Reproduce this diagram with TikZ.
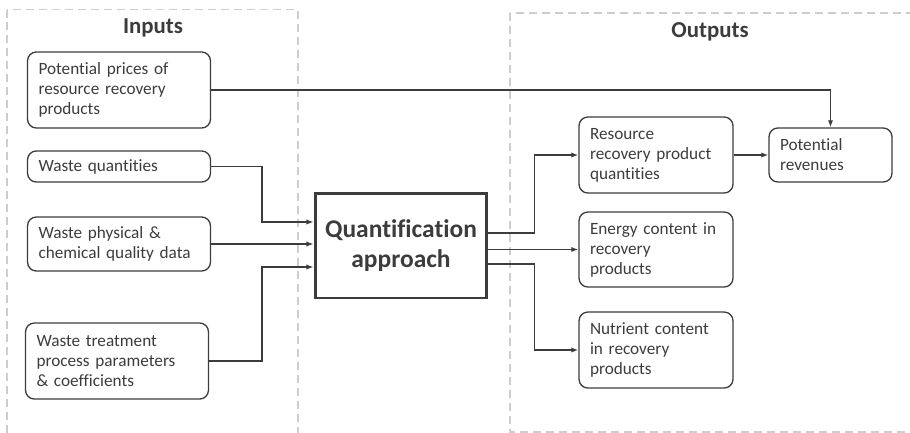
\documentclass[tikz,border=0pt]{standalone}
\usepackage{fontspec}
\setmainfont{Carlito}[Ligatures = NoCommon]
\usetikzlibrary{arrows.meta}

\definecolor{linegray}{RGB}{60, 60, 60}
\definecolor{framegray}{RGB}{205, 205, 205}

\begin{document}
\begin{tikzpicture}[x = 0.02cm, y = -0.02cm, > = {Latex[length = 4pt, width = 3pt]},
	font = \fontsize{9.8}{11.4}\selectfont, text = linegray,
	inbox/.style = {draw = linegray, line width = 0.75pt, rounded corners = 5pt, align = left,
		text width = 3.22cm, inner xsep = 0.22cm, inner ysep = 0pt},
	outbox/.style = {inbox, text width = 2.64cm},
	link/.style = {draw = linegray, line width = 0.75pt, ->}]

	% Frame

	\useasboundingbox (0, 0) rectangle (910, 433);
	\begin{scope}
		\clip (0, 0) rectangle (910, 433);
		\draw [framegray, line width = 0.8pt, dash pattern = on 0.16cm off 0.1cm] (7, 9.5) rectangle (298, 460);
		\draw [framegray, line width = 0.8pt, dash pattern = on 0.16cm off 0.1cm] (510, 13) rectangle (930, 432);
	\end{scope}

	\node [font = \fontsize{13}{15}\selectfont\bfseries] (intitle) at (153, 28) {Inputs};
	\node [font = \fontsize{13}{15}\selectfont\bfseries] (outtitle) at (710, 32) {Outputs};

	% Inputs

	\node [inbox, minimum height = 1.52cm] (price) at (119, 90) {Potential prices of\\resource recovery\\products};
	\node [inbox, minimum height = 0.62cm] (quant) at (119, 166.5) {Waste quantities};
	\node [inbox, minimum height = 1.08cm] (phys) at (119, 244) {Waste physical \&\\chemical quality data};
	\node [inbox, minimum height = 1.52cm] (treat) at (117, 361) {Waste treatment\\process parameters\\\& coefficients};

	% Quantification

	\node [draw = linegray, line width = 1.7pt, minimum width = 3.44cm, minimum height = 2.1cm, align = center,
		font = \fontsize{14.5}{17}\selectfont\bfseries] (quantif) at (401, 245.5) {Quantification\\approach};

	% Outputs

	\node [outbox, minimum height = 1.52cm] (rrq) at (656, 155) {Resource\\recovery product\\quantities};
	\node [outbox, minimum height = 1.5cm] (energy) at (656, 249.5) {Energy content in\\recovery\\products};
	\node [outbox, minimum height = 1.52cm] (nutr) at (656, 350) {Nutrient content\\in recovery\\products};
	\node [inbox, text width = 2.02cm, minimum height = 1.08cm] (rev) at (830.5, 155) {Potential\\revenues};

	% Connections

	\draw [link] (price.east) -| (rev.north);
	\draw [link] (quant.east) -- ++(51, 0) |- ([yshift = 0.47cm] quantif.west);
	\draw [link] (phys.east) -- (quantif.west |- phys.east);
	\draw [link] (treat.east) -- ++(53, 0) |- ([yshift = -0.43cm] quantif.west);

	\draw [link] ([yshift = 0.25cm] quantif.east) -- ++(46, 0) |- (rrq.west);
	\draw [link] (quantif.east |- energy.west) -- (energy.west);
	\draw [link] ([yshift = -0.37cm] quantif.east) -- ++(46, 0) |- (nutr.west);
	\draw [link] (rrq.east) -- (rev.west);

\end{tikzpicture}
\end{document}
